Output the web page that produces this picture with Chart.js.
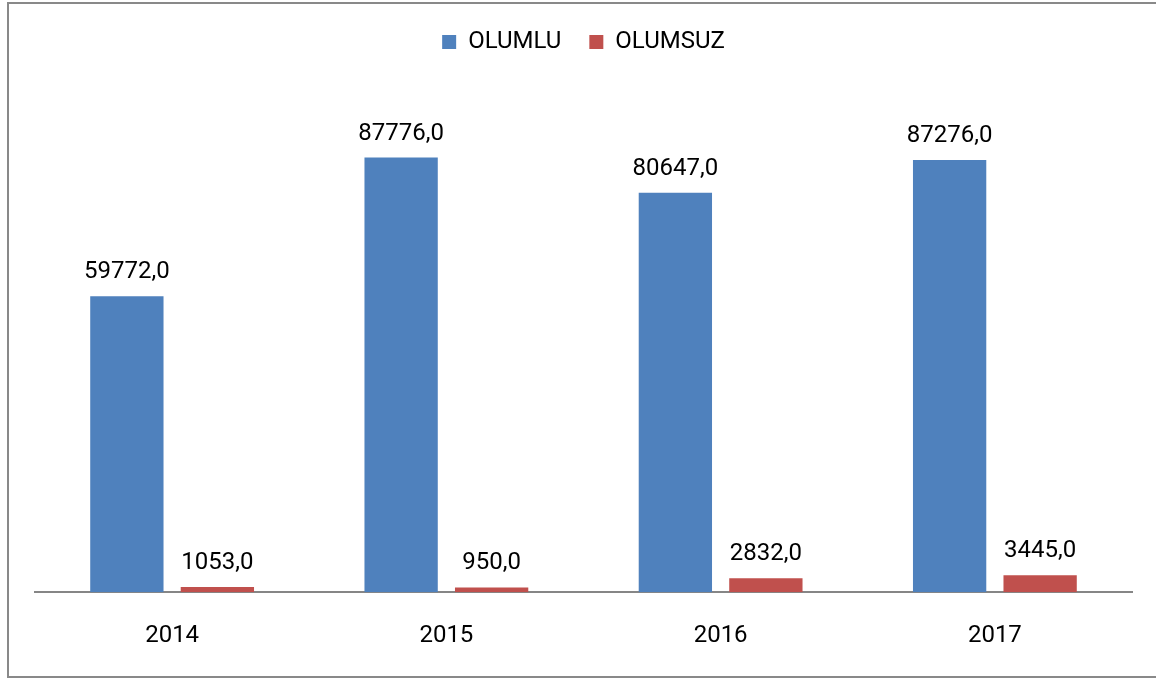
<!DOCTYPE html>
<html>
<head>
<meta charset="utf-8">
<script src="https://cdn.jsdelivr.net/npm/chart.js@4"></script>
<style>
  html, body { margin: 0; padding: 0; background: #ffffff; }
  #wrap { width: 1156px; height: 679px; position: relative; }
</style>
</head>
<body>
<div id="wrap"><canvas id="c" width="1156" height="679"></canvas></div>
<script>
const categories = ['2014', '2015', '2016', '2017'];
const seriesNames = ['OLUMLU', 'OLUMSUZ'];
const olumlu = [59772, 87776, 80647, 87276];
const olumsuz = [1053, 950, 2832, 3445];
const colors = ['#4F81BD', '#C0504D'];

const FONT = 'Roboto, "Liberation Sans", Arial, sans-serif';

const frame = {
  id: 'frame',
  beforeDraw(chart) {
    const ctx = chart.ctx;
    ctx.save();
    ctx.fillStyle = '#ffffff';
    ctx.fillRect(0, 0, chart.width, chart.height);
    ctx.strokeStyle = '#898989';
    ctx.lineWidth = 2;
    ctx.strokeRect(8, 3, 1160, 674);
    ctx.restore();
  }
};

const legendGap = {
  id: 'legendGap',
  beforeInit(chart) {
    const fit = chart.legend.fit;
    chart.legend.fit = function () {
      fit.bind(chart.legend)();
      this.height += 33;
    };
  }
};

const valueLabels = {
  id: 'valueLabels',
  afterDatasetsDraw(chart) {
    const ctx = chart.ctx;
    ctx.save();
    ctx.fillStyle = '#000000';
    ctx.font = '24px ' + FONT;
    ctx.textAlign = 'center';
    ctx.textBaseline = 'alphabetic';
    chart.data.datasets.forEach((ds, i) => {
      const meta = chart.getDatasetMeta(i);
      meta.data.forEach((el, j) => {
        const txt = ds.data[j].toFixed(1).replace('.', ',');
        ctx.fillText(txt, el.x, el.y - 18);
      });
    });
    ctx.restore();
  }
};

new Chart(document.getElementById('c'), {
  type: 'bar',
  data: {
    labels: categories,
    datasets: [
      { label: seriesNames[0], data: olumlu, backgroundColor: colors[0] },
      { label: seriesNames[1], data: olumsuz, backgroundColor: colors[1] }
    ]
  },
  options: {
    responsive: false,
    animation: false,
    devicePixelRatio: 1,
    categoryPercentage: 0.66,
    barPercentage: 0.81,
    layout: { padding: { left: 35, right: 24, top: 2, bottom: 0 } },
    plugins: {
      legend: {
        position: 'top',
        labels: {
          boxWidth: 14,
          boxHeight: 14,
          padding: 28,
          color: '#000000',
          font: { family: FONT, size: 24 }
        }
      },
      tooltip: { enabled: false }
    },
    scales: {
      x: {
        grid: { display: false, drawTicks: false },
        border: { display: true, color: '#868686', width: 2 },
        ticks: { color: '#000000', font: { family: FONT, size: 24 }, padding: 29 }
      },
      y: {
        display: false,
        min: 0,
        max: 100000
      }
    }
  },
  plugins: [frame, legendGap, valueLabels]
});
</script>
</body>
</html>
